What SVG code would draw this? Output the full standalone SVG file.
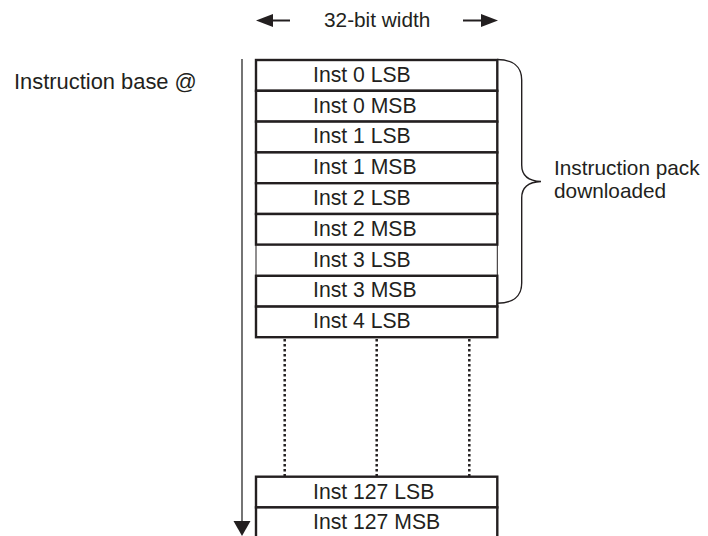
<svg xmlns="http://www.w3.org/2000/svg" width="708" height="536" viewBox="0 0 708 536">
<style>
text{font-family:"Liberation Sans",Arial,sans-serif;font-size:21.2px;fill:#231f20}
.box rect{fill:#fff;stroke:#231f20;stroke-width:2.4}
.box.thin rect{stroke-width:1}
.dot{stroke:#231f20;stroke-width:2.5;stroke-dasharray:2.5 2.5;fill:none}
</style>
<rect width="708" height="536" fill="#fff"/>
<g id="width-label">
<text x="324" y="27" style="font-size:20.8px">32-bit width</text>
</g>
<g id="base-label">
<text x="14" y="89.3" style="font-size:21.9px">Instruction base @</text>
</g>
<g id="pack-label">
<text x="554" y="175" style="font-size:20.8px">Instruction pack</text>
<text x="554" y="198" style="font-size:20.8px">downloaded</text>
</g>
<g id="connectors">
<line x1="290" y1="20.5" x2="272" y2="20.5" stroke="#231f20" stroke-width="2"/>
<polygon points="256,20.5 273,14 273,27" fill="#231f20"/>
<line x1="463" y1="20.5" x2="482" y2="20.5" stroke="#231f20" stroke-width="2"/>
<polygon points="498,20.5 481,14 481,27" fill="#231f20"/>
<line x1="242" y1="59" x2="242" y2="523" stroke="#3a3a3a" stroke-width="1.4"/>
<polygon points="233.5,521 250.5,521 242,536" fill="#231f20"/>
<path d="M497,59.5 C512,59.5 521.7,66 521.7,80 L521.7,165 C521.7,175 528,181 541,181.5 C528,182 521.7,188 521.7,198 L521.7,283 C521.7,297 512,303.3 497,303.3" fill="none" stroke="#231f20" stroke-width="1.4"/>
<line class="dot" x1="284.7" y1="339" x2="284.7" y2="476"/>
<line class="dot" x1="376.7" y1="339" x2="376.7" y2="476"/>
<line class="dot" x1="469.3" y1="339" x2="469.3" y2="476"/>
</g>
<g id="inst3lsb" class="box thin"><rect x="256" y="244.6" width="241.3" height="30.8"/><text x="313" y="266.6">Inst 3 LSB</text></g>
<g id="inst0lsb" class="box"><rect x="256" y="60" width="241.3" height="30.8"/><text x="313" y="81.8">Inst 0 LSB</text></g>
<g id="inst0msb" class="box"><rect x="256" y="90.8" width="241.3" height="30.8"/><text x="313" y="112.6">Inst 0 MSB</text></g>
<g id="inst1lsb" class="box"><rect x="256" y="121.6" width="241.3" height="30.8"/><text x="313" y="143.4">Inst 1 LSB</text></g>
<g id="inst1msb" class="box"><rect x="256" y="152.4" width="241.3" height="30.8"/><text x="313" y="174.3">Inst 1 MSB</text></g>
<g id="inst2lsb" class="box"><rect x="256" y="183.2" width="241.3" height="30.8"/><text x="313" y="205">Inst 2 LSB</text></g>
<g id="inst2msb" class="box"><rect x="256" y="214" width="241.3" height="30.6"/><text x="313" y="235.8">Inst 2 MSB</text></g>
<g id="inst3msb" class="box"><rect x="256" y="275.8" width="241.3" height="30.8"/><text x="313" y="297.4">Inst 3 MSB</text></g>
<g id="inst4lsb" class="box"><rect x="256" y="306.6" width="241.3" height="30.6"/><text x="313" y="328.3">Inst 4 LSB</text></g>
<g id="inst127lsb" class="box"><rect x="256" y="476.7" width="241.3" height="30.7"/><text x="313" y="498.5">Inst 127 LSB</text></g>
<g id="inst127msb" class="box"><rect x="256" y="507.4" width="241.3" height="32"/><text x="313" y="529.4">Inst 127 MSB</text></g>
</svg>
